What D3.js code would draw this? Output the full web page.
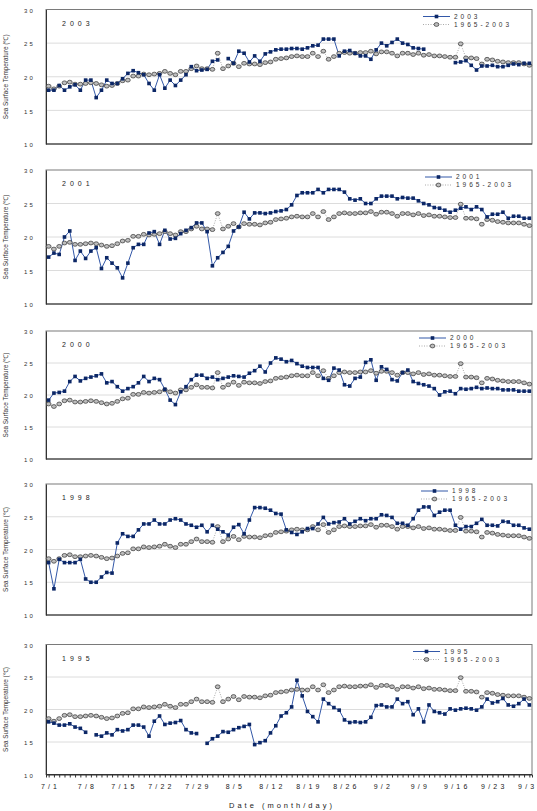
<!DOCTYPE html>
<html>
<head>
<meta charset="utf-8">
<script src="https://cdn.jsdelivr.net/npm/d3@7"></script>
<style>
  body { margin: 0; background: #fff; }
  svg { display: block; font-family: "Liberation Sans", Arial, sans-serif; }
</style>
</head>
<body>
<svg id="chart" width="537" height="811"></svg>
<script>
'use strict';

// categories: every day from 7/1 to 9/30
var days = d3.timeDays(new Date(2003, 6, 1), new Date(2003, 9, 1)).map(function(d) {
    return (d.getMonth() + 1) + '/' + d.getDate();
});
var tickLabels = ['7/1', '7/8', '7/15', '7/22', '7/29', '8/5', '8/12', '8/19', '8/26', '9/2', '9/9', '9/16', '9/23', '9/30'];
var yTicks = [10, 15, 20, 25, 30];

// 1965-2003 mean
var clim = [
    18.6, 18.2, 18.6, 19.1, 19.2, 18.9, 18.9, 19.0, 19.1, 19.0,
    18.8, 18.6, 18.7, 19.0, 19.4, 19.5, 20.1, 20.1, 20.4, 20.3,
    20.4, 20.5, 20.8, 20.5, 20.3, 20.8, 20.8, 21.2, 21.6, 21.2,
    21.2, 21.1, 23.5, 21.2, 21.6, 22.0, 21.5, 22.0, 21.9, 21.9,
    21.8, 22.1, 22.2, 22.6, 22.7, 22.8, 23.0, 23.1, 23.0, 23.0,
    23.5, 23.0, 23.8, 22.6, 23.0, 23.5, 23.6, 23.5, 23.5, 23.6,
    23.6, 23.8, 23.4, 23.7, 23.7, 23.5, 23.1, 23.5, 23.5, 23.3,
    23.5, 23.2, 23.3, 23.1, 23.1, 23.0, 22.9, 22.9, 24.9, 22.8,
    22.8, 22.7, 21.9, 22.6, 22.5, 22.3, 22.2, 22.1, 22.1, 22.1,
    21.9, 21.7
];

var sst2003 = [
    18.0, 18.0, 18.7, 18.0, 18.5, 18.8, 18.0, 19.5, 19.5, 16.9,
    18.0, 19.5, 19.0, 19.0, 19.7, 20.5, 20.9, 20.6, 20.3, 19.0,
    18.0, 20.3, 18.3, 19.5, 18.7, 19.5, 20.3, 21.5, 20.9, 21.0,
    21.1, 22.3, 22.5, null, 22.7, 22.0, 23.8, 23.5, 22.2, 23.1,
    22.3, 23.4, 23.7, 24.0, 24.1, 24.1, 24.2, 24.2, 24.1, 24.3,
    24.6, 24.7, 25.6, 25.6, 25.6, 23.1, 23.8, 23.9, 23.5, 23.1,
    23.1, 22.6, 24.0, 25.0, 24.6, 25.1, 25.6, 25.0, 24.8, 24.3,
    24.2, 24.1, null, null, null, null, null, 22.1, 22.2, 22.4,
    21.7, 21.0, 21.6, 21.6, 21.7, 21.5, 21.5, 21.7, 21.9, 21.8,
    22.0, 22.0
];

var sst2001 = [
    17.0, 17.6, 17.4, 20.0, 20.9, 16.5, 17.9, 16.8, 17.9, 18.4,
    15.3, 16.9, 16.1, 15.4, 13.9, 16.1, 18.4, 18.9, 18.9, 20.6,
    20.8, 18.9, 21.0, 19.7, 19.8, 20.5, 21.0, 21.4, 22.1, 22.1,
    20.8, 15.7, 16.9, 17.7, 18.6, 20.9, 21.5, 23.7, 22.7, 23.6,
    23.6, 23.5, 23.6, 23.8, 23.9, 24.1, 24.8, 26.2, 26.6, 26.6,
    26.6, 27.1, 26.6, 27.1, 27.1, 27.1, 26.7, 25.7, 25.5, 25.7,
    25.0, 25.0, 25.7, 26.1, 26.1, 26.1, 25.7, 25.9, 25.8, 25.8,
    25.4, 25.0, 24.8, 24.4, 24.3, 24.0, 23.7, 24.0, 24.3, 24.5,
    24.1, 24.5, 24.1, 23.0, 23.4, 23.4, 23.7, 22.8, 23.1, 23.1,
    22.8, 22.8
];

var sst2000 = [
    19.2, 20.3, 20.4, 20.6, 22.1, 22.9, 22.2, 22.6, 22.8, 23.0,
    23.3, 21.9, 22.1, 21.3, 20.6, 21.0, 21.3, 21.9, 22.9, 22.1,
    22.6, 22.4, 20.9, 19.2, 18.5, 20.5, 21.3, 22.4, 23.1, 23.1,
    22.6, 22.8, 22.4, 22.6, 22.8, 23.0, 22.9, 22.8, 23.4, 23.8,
    24.5, 23.6, 25.0, 25.8, 25.6, 25.2, 25.4, 24.9, 24.5, 24.3,
    24.3, 24.3, 22.6, 22.3, 24.2, 23.9, 21.6, 21.4, 22.6, 22.8,
    25.1, 25.5, 22.3, 24.4, 24.0, 22.4, 22.2, 23.5, 23.9, 22.1,
    21.8, 21.6, 21.4, 21.0, 20.0, 20.5, 20.6, 20.2, 21.0, 20.9,
    21.0, 21.2, 21.0, 21.1, 21.0, 21.0, 20.8, 20.8, 20.8, 20.6,
    20.6, 20.6
];

var sst1998 = [
    18.0, 14.0, 18.5, 18.0, 18.0, 18.0, 18.5, 15.5, 15.0, 15.0,
    15.8, 16.5, 16.4, 21.0, 22.4, 22.0, 22.0, 23.0, 23.9, 23.9,
    24.5, 23.9, 23.9, 24.5, 24.7, 24.5, 23.9, 23.7, 23.4, 23.7,
    22.7, 23.7, 23.1, 22.7, 22.2, 23.4, 23.8, 22.4, 24.5, 26.4,
    26.4, 26.3, 26.0, 25.5, 25.4, 23.0, 22.6, 22.3, 22.7, 23.2,
    23.2, 23.9, 24.9, 23.9, 24.1, 24.2, 24.7, 23.9, 24.3, 24.7,
    24.4, 24.7, 24.7, 25.3, 25.2, 24.9, 24.0, 24.0, 23.7, 24.7,
    26.0, 26.5, 26.5, 25.2, 25.7, 26.0, 26.0, 23.7, 23.1, 23.5,
    23.5, 24.0, 24.6, 23.7, 23.7, 23.6, 24.3, 24.2, 23.7, 23.7,
    23.3, 23.1
];

var sst1995 = [
    18.1, 17.9, 17.6, 17.6, 17.8, 17.3, 17.1, 16.5, null, 16.1,
    15.9, 16.4, 16.1, 16.9, 16.7, 16.9, 17.6, 17.6, 17.3, 15.9,
    18.2, 19.0, 17.7, 17.9, 18.0, 18.3, 16.9, 16.4, 16.3, null,
    14.8, 15.5, 15.9, 16.6, 16.5, 16.9, 17.2, 17.4, 17.7, 14.6,
    14.9, 15.2, 16.4, 17.5, 19.0, 19.5, 20.4, 24.5, 22.1, 19.7,
    18.9, 18.1, 21.6, 20.9, 20.3, 19.9, 18.4, 18.0, 18.1, 18.0,
    18.1, 18.8, 20.6, 20.7, 20.4, 20.4, 21.6, 20.9, 21.2, 19.2,
    20.1, 18.1, 20.7, 19.7, 19.5, 19.3, 20.1, 19.9, 20.1, 20.2,
    20.1, 19.9, 20.4, 21.6, 21.0, 21.2, 21.7, 20.7, 20.5, 20.9,
    21.6, 20.7
];

var years = ['2003', '2001', '2000', '1998', '1995'];
var series = [sst2003, sst2001, sst2000, sst1998, sst1995];
var climLabel = '1965-2003';

// panel layout
var panelTops = [9.5, 170, 331, 484, 644.5],
    panelBottoms = [144, 304, 459, 615, 774.5],
    legendX = [423, 425, 419, 421, 413];

var plotLeft = 46, plotRight = 532;

var svg = d3.select('#chart');

var x = d3.scalePoint()
    .domain(d3.range(days.length))
    .range([plotLeft, plotRight])
    .padding(0.5);

var blueLine = '#3358a8',
    blueMark = '#0c2766',
    climStroke = '#444',
    climFill = '#bdbdbd';

function drawPanel(i) {
    var top = panelTops[i],
        bottom = panelBottoms[i],
        values = series[i];

    var y = d3.scaleLinear().domain([10, 30]).range([bottom, top]);

    var g = svg.append('g').attr('class', 'panel');

    // grid
    g.selectAll('line.grid')
        .data([15, 20, 25])
        .enter().append('line')
            .attr('class', 'grid')
            .attr('x1', plotLeft).attr('x2', plotRight)
            .attr('y1', y).attr('y2', y)
            .attr('stroke', '#dcdcdc')
            .attr('stroke-width', 1);

    // frame
    g.append('rect')
        .attr('x', plotLeft).attr('y', top)
        .attr('width', plotRight - plotLeft).attr('height', bottom - top)
        .attr('fill', 'none')
        .attr('stroke', '#7a7a7a')
        .attr('stroke-width', 1);

    // y axis
    var yAxis = g.append('g')
        .attr('transform', 'translate(' + plotLeft + ',0)')
        .call(d3.axisLeft(y).tickValues(yTicks).tickFormat(d3.format('d')).tickSize(0).tickPadding(11));
    yAxis.select('.domain').attr('stroke', '#333');
    yAxis.selectAll('text')
        .attr('fill', '#333')
        .attr('dy', '0.45em')
        .style('font-size', '6px')
        .style('letter-spacing', '2.2px');

    // bottom axis line
    g.append('line')
        .attr('x1', plotLeft).attr('x2', plotRight)
        .attr('y1', bottom).attr('y2', bottom)
        .attr('stroke', '#333');

    // y title
    g.append('text')
        .attr('transform', 'translate(8,' + ((top + bottom) / 2) + ') rotate(-90)')
        .attr('text-anchor', 'middle')
        .attr('fill', '#333')
        .style('font-size', '6.4px')
        .text('Sea Surface Temperature (\u2103)');

    // year label
    g.append('text')
        .attr('x', 62).attr('y', top + 16)
        .attr('fill', '#222')
        .style('font-size', '7px')
        .style('letter-spacing', '4px')
        .text(years[i]);

    // climatology
    var seriesPath = d3.line()
        .defined(function(d) { return d != null; })
        .x(function(d, j) { return x(j); })
        .y(function(d) { return y(d); });

    g.append('path')
        .datum(clim)
        .attr('d', seriesPath)
        .attr('fill', 'none')
        .attr('stroke', '#aaa')
        .attr('stroke-width', 1)
        .attr('stroke-dasharray', '1,1.5');

    // year series line
    g.append('path')
        .datum(values)
        .attr('d', seriesPath)
        .attr('fill', 'none')
        .attr('stroke', blueLine)
        .attr('stroke-width', 1);

    g.selectAll('ellipse.clim')
        .data(clim)
        .enter().append('ellipse')
            .attr('class', 'clim')
            .attr('cx', function(d, j) { return x(j); })
            .attr('cy', function(d) { return y(d); })
            .attr('rx', 2.4).attr('ry', 1.9)
            .attr('fill', climFill)
            .attr('stroke', climStroke)
            .attr('stroke-width', 0.8);

    var pts = values.map(function(d, j) { return {v: d, j: j}; })
        .filter(function(d) { return d.v != null; });

    g.selectAll('rect.pt')
        .data(pts)
        .enter().append('rect')
            .attr('class', 'pt')
            .attr('x', function(d) { return x(d.j) - 1.8; })
            .attr('y', function(d) { return y(d.v) - 1.8; })
            .attr('width', 3.6).attr('height', 3.6)
            .attr('fill', blueMark);

    // legend
    var lx = legendX[i],
        ly1 = top + 7,
        ly2 = top + 15;

    g.append('line')
        .attr('x1', lx).attr('x2', lx + 27)
        .attr('y1', ly1).attr('y2', ly1)
        .attr('stroke', blueLine);
    g.append('rect')
        .attr('x', lx + 13.5 - 1.8).attr('y', ly1 - 1.8)
        .attr('width', 3.6).attr('height', 3.6)
        .attr('fill', blueMark);
    g.append('text')
        .attr('x', lx + 31).attr('y', ly1 + 2.3)
        .attr('fill', '#333')
        .style('font-size', '6.5px')
        .style('letter-spacing', '3px')
        .text(years[i]);

    g.append('line')
        .attr('x1', lx).attr('x2', lx + 27)
        .attr('y1', ly2).attr('y2', ly2)
        .attr('stroke', '#aaa')
        .attr('stroke-dasharray', '1,1.5');
    g.append('ellipse')
        .attr('cx', lx + 13.5).attr('cy', ly2)
        .attr('rx', 2.4).attr('ry', 1.9)
        .attr('fill', climFill)
        .attr('stroke', climStroke)
        .attr('stroke-width', 0.8);
    g.append('text')
        .attr('x', lx + 31).attr('y', ly2 + 2.3)
        .attr('fill', '#333')
        .style('font-size', '6.5px')
        .style('letter-spacing', '3px')
        .text(climLabel);
}

for (var i = 0; i < years.length; i++) {
    drawPanel(i);
}

// x axis on the last panel
var lastBottom = panelBottoms[panelBottoms.length - 1];
var xAxis = svg.append('g')
    .attr('transform', 'translate(0,' + lastBottom + ')')
    .call(d3.axisBottom(x)
        .tickSize(3)
        .tickPadding(7)
        .tickFormat(function(j) {
            return tickLabels.indexOf(days[j]) >= 0 ? days[j] : '';
        }));
xAxis.select('.domain').attr('stroke', '#333');
xAxis.selectAll('line').attr('stroke', '#333');
xAxis.selectAll('text')
    .attr('fill', '#222')
    .attr('dx', '0.2em')
    .style('font-size', '7px')
    .style('letter-spacing', '3.2px');

svg.append('text')
    .attr('x', 282).attr('y', 808)
    .attr('text-anchor', 'middle')
    .attr('fill', '#222')
    .style('font-size', '7.5px')
    .style('letter-spacing', '3px')
    .text('Date (month/day)');
</script>
</body>
</html>
